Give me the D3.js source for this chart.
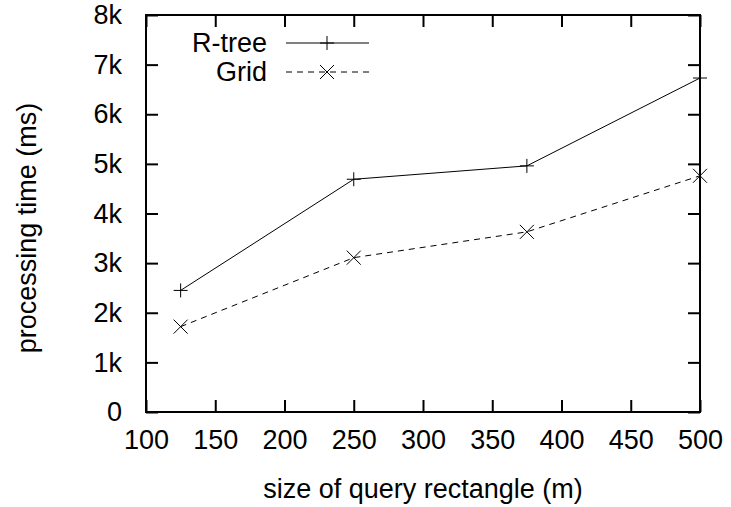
<!DOCTYPE html>
<html>
<head>
<meta charset="utf-8">
<script src="https://cdn.jsdelivr.net/npm/d3@7"></script>
<style>
  html, body { margin: 0; padding: 0; background: #fff; }
  svg { display: block; font-family: "Liberation Sans", Arial, Helvetica, sans-serif; }
</style>
</head>
<body>
<svg id="chart" width="731" height="507"></svg>
<script>
// Query rectangle sizes (m) and processing times (ms)
const querySizes = [125, 250, 375, 500];
const rtreeTimes = [2450, 4690, 4960, 6730];
const gridTimes  = [1720, 3110, 3630, 4760];
const seriesNames = ["R-tree", "Grid"];
const xTickValues = [100, 150, 200, 250, 300, 350, 400, 450, 500];
const yTickValues = [0, 1000, 2000, 3000, 4000, 5000, 6000, 7000, 8000];
const yTickLabels = ["0", "1k", "2k", "3k", "4k", "5k", "6k", "7k", "8k"];

const svg = d3.select("#chart");
const plotLeft = 146, plotRight = 700, plotTop = 15, plotBottom = 412;
const fontSize = 27;

const x = d3.scaleLinear().domain([100, 500]).range([plotLeft, plotRight]);
const y = d3.scaleLinear().domain([0, 8000]).range([plotBottom, plotTop]);

const tickLen = 12;

// Inward ticks on all four sides (gnuplot-style mirrored ticks)
const axisB = d3.axisBottom(x).tickValues(xTickValues).tickSizeInner(-tickLen).tickSizeOuter(0).tickPadding(18);
const axisT = d3.axisTop(x).tickValues(xTickValues).tickSizeInner(-tickLen).tickSizeOuter(0).tickFormat("");
const axisL = d3.axisLeft(y).tickValues(yTickValues).tickSizeInner(-tickLen).tickSizeOuter(0).tickPadding(24)
  .tickFormat((d, i) => yTickLabels[i]);
const axisR = d3.axisRight(y).tickValues(yTickValues).tickSizeInner(-tickLen).tickSizeOuter(0).tickFormat("");

function styleAxis(g) {
  g.select(".domain").remove();
  g.selectAll(".tick line").attr("stroke", "#000").attr("stroke-width", 2);
  g.selectAll(".tick text").attr("fill", "#000").attr("font-size", fontSize)
    .attr("font-family", "'Liberation Sans', Arial, sans-serif");
}

svg.append("g").attr("transform", `translate(0,${plotBottom})`).call(axisB).call(styleAxis);
svg.append("g").attr("transform", `translate(0,${plotTop})`).call(axisT).call(styleAxis);
svg.append("g").attr("transform", `translate(${plotLeft},0)`).call(axisL).call(styleAxis);
svg.append("g").attr("transform", `translate(${plotRight},0)`).call(axisR).call(styleAxis);

// Plot border
svg.append("rect")
  .attr("x", plotLeft).attr("y", plotTop)
  .attr("width", plotRight - plotLeft).attr("height", plotBottom - plotTop)
  .attr("fill", "none").attr("stroke", "#000").attr("stroke-width", 2);

// Axis titles
svg.append("text")
  .attr("x", (plotLeft + plotRight) / 2).attr("y", 498)
  .attr("text-anchor", "middle").attr("font-size", fontSize).attr("fill", "#000")
  .text("size of query rectangle (m)");

svg.append("text")
  .attr("transform", "translate(36,228) rotate(-90)")
  .attr("text-anchor", "middle").attr("font-size", fontSize).attr("fill", "#000")
  .text("processing time (ms)");

// Markers
function plusMarker(g, cx, cy, r) {
  g.append("path").attr("d", `M${cx - r},${cy}H${cx + r}M${cx},${cy - r}V${cy + r}`)
    .attr("stroke", "#000").attr("stroke-width", 1).attr("fill", "none");
}
function crossMarker(g, cx, cy, r) {
  g.append("path").attr("d", `M${cx - r},${cy - r}L${cx + r},${cy + r}M${cx - r},${cy + r}L${cx + r},${cy - r}`)
    .attr("stroke", "#000").attr("stroke-width", 1).attr("fill", "none");
}

const line = d3.line().x(d => x(d[0])).y(d => y(d[1]));
const rtreeData = querySizes.map((s, i) => [s, rtreeTimes[i]]);
const gridData = querySizes.map((s, i) => [s, gridTimes[i]]);

const plot = svg.append("g");
plot.append("path").datum(rtreeData).attr("d", line)
  .attr("fill", "none").attr("stroke", "#000").attr("stroke-width", 1);
plot.append("path").datum(gridData).attr("d", line)
  .attr("fill", "none").attr("stroke", "#000").attr("stroke-width", 1).attr("stroke-dasharray", "6,5");

rtreeData.forEach(d => plusMarker(plot, x(d[0]), y(d[1]), 7));
gridData.forEach(d => crossMarker(plot, x(d[0]), y(d[1]), 7));

// Legend
const legend = svg.append("g");
const legendRows = [
  { name: seriesNames[0], dash: null, marker: plusMarker, cy: 43 },
  { name: seriesNames[1], dash: "6,5", marker: crossMarker, cy: 72 }
];
legendRows.forEach(r => {
  legend.append("text").attr("x", 267).attr("y", r.cy).attr("dy", "0.35em")
    .attr("text-anchor", "end").attr("font-size", fontSize).attr("fill", "#000").text(r.name);
  const ln = legend.append("line").attr("x1", 286).attr("x2", 369).attr("y1", r.cy).attr("y2", r.cy)
    .attr("stroke", "#000").attr("stroke-width", 1);
  if (r.dash) ln.attr("stroke-dasharray", r.dash);
  r.marker(legend, 327, r.cy, 7);
});
</script>
</body>
</html>
